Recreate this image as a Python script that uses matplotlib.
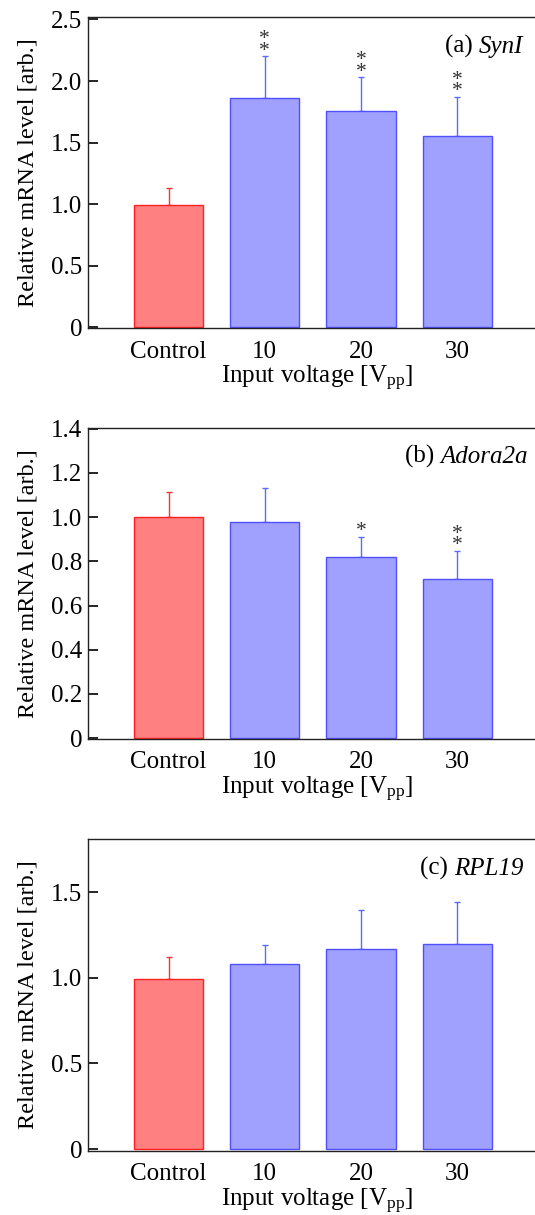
import matplotlib
matplotlib.use('Agg')
import matplotlib.pyplot as plt

plt.rcParams['font.family'] = ['Liberation Serif', 'DejaVu Serif']
plt.rcParams['mathtext.fontset'] = 'custom'
plt.rcParams['mathtext.rm'] = 'Liberation Serif'
plt.rcParams['mathtext.it'] = 'Liberation Serif:italic'

categories = ['Control', '10', '20', '30']

syn_mean = [0.99, 1.86, 1.76, 1.555]
syn_err = [0.14, 0.34, 0.27, 0.315]
syn_stars = [0, 2, 2, 2]

ado_mean = [1.0, 0.98, 0.82, 0.72]
ado_err = [0.115, 0.15, 0.09, 0.127]
ado_stars = [0, 0, 1, 2]

rpl_mean = [0.995, 1.08, 1.17, 1.197]
rpl_err = [0.13, 0.113, 0.23, 0.25]
rpl_stars = [0, 0, 0, 0]

panels = [
    (syn_mean, syn_err, syn_stars, '(a) ', 'SynI', 0.95, (-0.008, 2.52),
     [0, 0.5, 1.0, 1.5, 2.0, 2.5], ['0', '0.5', '1.0', '1.5', '2.0', '2.5']),
    (ado_mean, ado_err, ado_stars, '(b) ', 'Adora2a', 0.961, (-0.004, 1.405),
     [0, 0.2, 0.4, 0.6, 0.8, 1.0, 1.2, 1.4], ['0', '0.2', '0.4', '0.6', '0.8', '1.0', '1.2', '1.4']),
    (rpl_mean, rpl_err, rpl_stars, '(c) ', 'RPL19', 0.95, (-0.01, 1.81),
     [0, 0.5, 1.0, 1.5], ['0', '0.5', '1.0', '1.5']),
]

fill_cols = ['#ff8080'] + ['#a0a0ff'] * 3
edge_cols = ['#ff2020'] + ['#5050ff'] * 3
err_cols = ['#ff3030'] + ['#5a6aff'] * 3

fig = plt.figure(figsize=(5.35, 12.15), dpi=100)
bottoms = [0.7298, 0.3918, 0.0529]
fs = 18

for (mean, err, stars, tag, gene, tx, ylim, yt, ytl), b in zip(panels, bottoms):
    ax = fig.add_axes([0.1645, b, 0.856, 0.2562])
    x = list(range(len(categories)))
    ax.bar(x, mean, width=0.72, color=fill_cols, edgecolor=edge_cols, linewidth=1.0, zorder=2)
    for i in x:
        ax.errorbar(i, mean[i], yerr=[[0], [err[i]]], color=err_cols[i], capsize=2.5,
                    elinewidth=1.0, capthick=1.0, zorder=1)
        if stars[i]:
            ax.annotate('\n'.join(['*'] * stars[i]), xy=(i, mean[i] + err[i]), xytext=(0, 0.5),
                        textcoords='offset points', ha='center', va='baseline',
                        fontsize=15.5, color='#333333', linespacing=0.45)
    ax.set_xlim(-0.836, 3.92)
    ax.set_ylim(*ylim)
    ax.set_yticks(yt)
    ax.set_yticklabels(ytl)
    ax.set_xticks(x)
    ax.set_xticklabels(categories)
    ax.tick_params(axis='y', direction='in', length=7, width=1.2, labelsize=fs, pad=4)
    ax.tick_params(axis='x', length=0, labelsize=fs, pad=9)
    for s in ax.spines.values():
        s.set_linewidth(1.0)
        s.set_color('#222222')
    ax.set_ylabel('Relative mRNA level [arb.]', fontsize=17.5, labelpad=9)
    ax.set_xlabel(r'Input voltage [V$_{\mathrm{pp}}$]', fontsize=fs, labelpad=1)
    gt = ax.text(tx, 0.905, gene, transform=ax.transAxes, ha='right', va='center',
                 fontsize=fs, fontstyle='italic')
    ax.annotate(tag, xy=(0, 0), xycoords=gt, ha='right', va='bottom', fontsize=fs)

fig.savefig('out.png', dpi=100)
